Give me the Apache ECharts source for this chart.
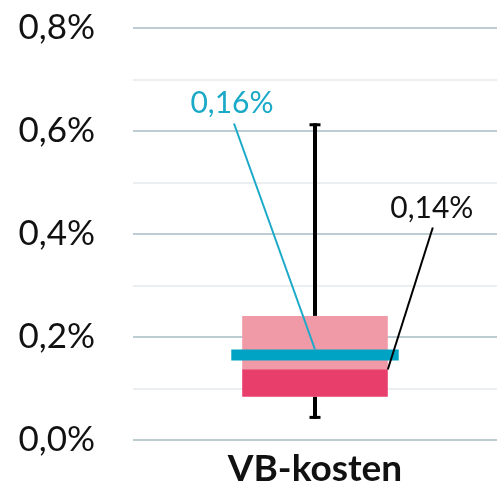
<!DOCTYPE html>
<html>
<head>
<meta charset="utf-8">
<script src="https://cdn.jsdelivr.net/npm/echarts@6/dist/echarts.min.js"></script>
<style>html,body{margin:0;padding:0;background:#fff}#c{width:497px;height:485px}</style>
</head>
<body>
<div id="c"></div>
<script>
// ---- data (percent values) ----
var categories = ['VB-kosten'];
var whiskerLow = [0.041];
var q1 = [0.084];
var median = [0.137];
var q3 = [0.241];
var whiskerHigh = [0.615];
var mean = [0.165];
var meanLabels = ['0,16%'];
var medianLabels = ['0,14%'];
var yTickLabels = ['0,0%', '', '0,2%', '', '0,4%', '', '0,6%', '', '0,8%'];

var seriesData = categories.map(function (c, i) {
  return [i, whiskerLow[i], q1[i], median[i], q3[i], whiskerHigh[i], mean[i]];
});

var chart = echarts.init(document.getElementById('c'), null, {renderer: 'canvas'});

function renderItem(params, api) {
  var idx = api.value(0);
  var band = api.size([1, 0])[0];
  var boxW = band * 0.40;
  var meanW = band * 0.46;
  var pLow = api.coord([idx, api.value(1)]);
  var pQ1 = api.coord([idx, api.value(2)]);
  var pMed = api.coord([idx, api.value(3)]);
  var pQ3 = api.coord([idx, api.value(4)]);
  var pHigh = api.coord([idx, api.value(5)]);
  var pMean = api.coord([idx, api.value(6)]);
  var cx = pMed[0];
  var capW = 11;
  var meanH = 11;
  var i = params.dataIndex;
  var medEnd = [cx + boxW / 2, pMed[1]];
  var meanEnd = [cx, pMean[1] - meanH / 2];
  return {
    type: 'group',
    children: [
      {type: 'line', shape: {x1: cx, y1: pHigh[1], x2: cx, y2: pQ3[1]}, style: {stroke: '#000', lineWidth: 4}},
      {type: 'line', shape: {x1: cx, y1: pQ1[1], x2: cx, y2: pLow[1]}, style: {stroke: '#000', lineWidth: 4}},
      {type: 'line', shape: {x1: cx - capW / 2, y1: pHigh[1] + 1.5, x2: cx + capW / 2, y2: pHigh[1] + 1.5}, style: {stroke: '#000', lineWidth: 3}},
      {type: 'line', shape: {x1: cx - capW / 2, y1: pLow[1] - 1.5, x2: cx + capW / 2, y2: pLow[1] - 1.5}, style: {stroke: '#000', lineWidth: 3}},
      {type: 'rect', shape: {x: cx - boxW / 2, y: pQ3[1], width: boxW, height: pMed[1] - pQ3[1] + 0.5}, style: {fill: '#f09aa8'}},
      {type: 'rect', shape: {x: cx - boxW / 2, y: pMed[1], width: boxW, height: pQ1[1] - pMed[1]}, style: {fill: '#e83e6c'}},
      {type: 'rect', shape: {x: cx - meanW / 2, y: pMean[1] - meanH / 2, width: meanW, height: meanH}, style: {fill: '#00a3c4'}},
      {type: 'line', shape: {x1: meanEnd[0] - 81, y1: meanEnd[1] - 226, x2: meanEnd[0], y2: meanEnd[1]}, style: {stroke: '#1ba9c8', lineWidth: 2}},
      {type: 'line', shape: {x1: medEnd[0] + 45, y1: medEnd[1] - 142, x2: medEnd[0], y2: medEnd[1]}, style: {stroke: '#000', lineWidth: 2}},
      {type: 'text', x: meanEnd[0] - 83, y: meanEnd[1] - 231, style: {text: meanLabels[i], fill: '#1ba9c8', font: '30px Lato', align: 'center', verticalAlign: 'bottom'}},
      {type: 'text', x: medEnd[0] + 44, y: medEnd[1] - 146, style: {text: medianLabels[i], fill: '#111', font: '30px Lato', align: 'center', verticalAlign: 'bottom'}}
    ]
  };
}

chart.setOption({
  animation: false,
  grid: {left: 133, right: 0, top: 28, bottom: 45, containLabel: false, outerBoundsMode: 'none'},
  xAxis: {
    type: 'category',
    data: categories,
    axisLine: {show: false},
    axisTick: {show: false},
    axisLabel: {color: '#111', fontFamily: 'Lato', fontWeight: 'bold', fontSize: 37, margin: 11}
  },
  yAxis: {
    type: 'value',
    min: 0,
    max: 0.8,
    interval: 0.1,
    axisLine: {show: false},
    axisTick: {show: false},
    axisLabel: {
      color: '#111', fontFamily: 'Lato', fontSize: 35, margin: 38,
      formatter: function (v) { return yTickLabels[Math.round(v * 10)]; }
    },
    splitLine: {lineStyle: {color: ['#a9bdc4', '#e4eaec'], width: 1.5}}
  },
  series: [{
    type: 'custom',
    renderItem: renderItem,
    data: seriesData,
    encode: {x: 0, y: [1, 2, 3, 4, 5, 6]},
    clip: false
  }]
});
</script>
</body>
</html>
